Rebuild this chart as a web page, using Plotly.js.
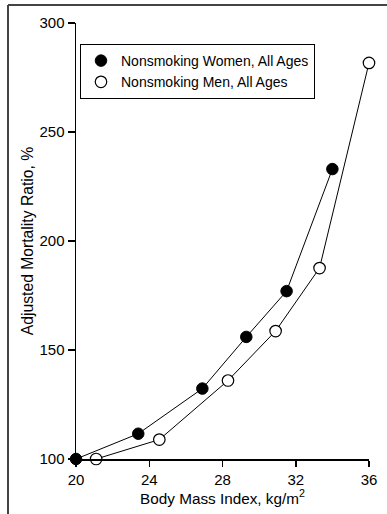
<!DOCTYPE html>
<html>
<head>
<meta charset="utf-8">
<script src="https://cdn.plot.ly/plotly-3.0.1.min.js"></script>
<style>
  html, body { margin: 0; padding: 0; background: #fff; }
  #chart { width: 387px; height: 514px; }
</style>
</head>
<body>
<div id="chart"></div>
<script>
// Data
const womenBMI = [20.0, 23.4, 26.9, 29.3, 31.5, 34.0];
const womenRatio = [100, 111.6, 132.3, 156, 177, 233];
const menBMI = [21.1, 24.55, 28.3, 30.9, 33.3, 36.0];
const menRatio = [100, 108.9, 136, 158.7, 187.6, 281.7];
const xTicks = [20, 24, 28, 32, 36];
const yTicks = [100, 150, 200, 250, 300];
const seriesNames = ['Nonsmoking Women, All Ages', 'Nonsmoking Men, All Ages'];

const FONT = '"Liberation Sans", Arial, Helvetica, sans-serif';

const lineStyle = { color: '#000', width: 1 };
const traces = [
  // connecting lines (not in legend)
  { x: womenBMI, y: womenRatio, type: 'scatter', mode: 'lines', line: lineStyle,
    showlegend: false, legendgroup: 'w', cliponaxis: false, hoverinfo: 'skip' },
  { x: menBMI, y: menRatio, type: 'scatter', mode: 'lines', line: lineStyle,
    showlegend: false, legendgroup: 'm', cliponaxis: false, hoverinfo: 'skip' },
  // markers (legend entries show markers only)
  { x: womenBMI, y: womenRatio, name: seriesNames[0], type: 'scatter', mode: 'markers',
    legendgroup: 'w', cliponaxis: false,
    marker: { symbol: 'circle', size: 11.5, color: '#000', line: { color: '#000', width: 1 } } },
  { x: menBMI, y: menRatio, name: seriesNames[1], type: 'scatter', mode: 'markers',
    legendgroup: 'm', cliponaxis: false,
    marker: { symbol: 'circle', size: 11.5, color: '#fff', line: { color: '#000', width: 1.2 } } }
];

const ml = 76, mr = 18, mt = 23, mb = 55;
const pw = 387 - ml - mr, ph = 514 - mt - mb;
function px2paperX(px) { return (px - ml) / pw; }
function px2paperY(py) { return (514 - mb - py) / ph; }

const layout = {
  width: 387, height: 514,
  margin: { l: ml, r: mr, t: mt, b: mb, pad: 0 },
  paper_bgcolor: '#fff', plot_bgcolor: '#fff',
  font: { family: FONT, size: 15, color: '#000' },
  showlegend: true,
  legend: {
    x: px2paperX(80), y: px2paperY(44), xanchor: 'left', yanchor: 'top',
    bgcolor: '#fff', bordercolor: '#000', borderwidth: 1,
    font: { family: FONT, size: 14, color: '#000' },
    itemwidth: 30, tracegroupgap: 0, traceorder: 'normal'
  },
  xaxis: {
    range: [20, 36], tickvals: xTicks, ticktext: xTicks.map(String),
    showgrid: false, zeroline: false,
    showline: true, linecolor: '#000', linewidth: 1.5,
    ticks: 'outside', ticklen: 6, tickwidth: 1.5, tickcolor: '#000',
    tickfont: { family: FONT, size: 15, color: '#000' },
    title: { text: 'Body Mass Index, kg/m<sup>2</sup>', font: { family: FONT, size: 15.3, color: '#000' }, standoff: 6 },
    automargin: false, fixedrange: true
  },
  yaxis: {
    range: [100, 300], tickvals: yTicks, ticktext: yTicks.map(String),
    showgrid: false, zeroline: false,
    showline: true, linecolor: '#000', linewidth: 1.5,
    ticks: 'outside', ticklen: 7, tickwidth: 1.5, tickcolor: '#000',
    tickfont: { family: FONT, size: 15, color: '#000' },
    title: { text: 'Adjusted Mortality Ratio, %', font: { family: FONT, size: 15.7, color: '#000' }, standoff: 1.5 },
    automargin: false, fixedrange: true
  },
  shapes: [
    { type: 'line', xref: 'paper', yref: 'paper',
      x0: px2paperX(8), x1: px2paperX(8), y0: px2paperY(5), y1: px2paperY(520),
      line: { color: '#444', width: 2 } },
    { type: 'line', xref: 'paper', yref: 'paper',
      x0: px2paperX(8), x1: px2paperX(392), y0: px2paperY(5), y1: px2paperY(5),
      line: { color: '#444', width: 2 } }
  ]
};

Plotly.newPlot('chart', traces, layout, { displayModeBar: false, staticPlot: true });
</script>
</body>
</html>
